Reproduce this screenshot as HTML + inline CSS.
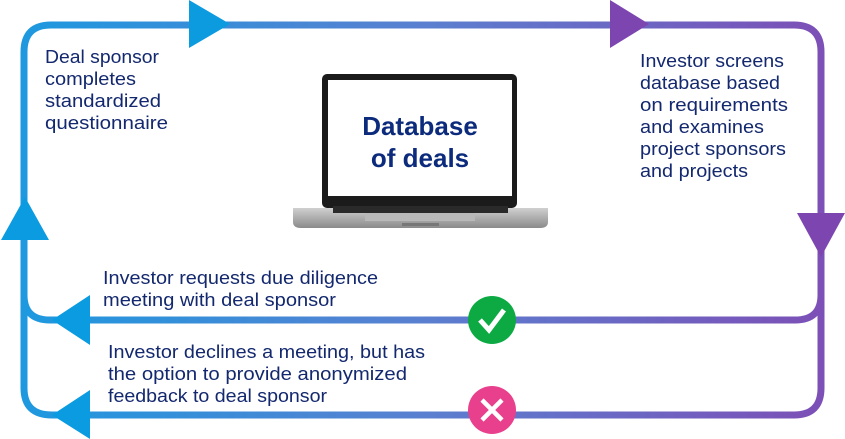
<!DOCTYPE html>
<html><head><meta charset="utf-8"><style>
html,body{margin:0;padding:0;background:#fff;}
svg{display:block;}
text{font-family:"Liberation Sans",sans-serif;fill:#13286e;}
</style></head><body>
<svg width="845" height="439" viewBox="0 0 845 439" xmlns="http://www.w3.org/2000/svg">
<defs>
<linearGradient id="g" gradientUnits="userSpaceOnUse" x1="0" y1="0" x2="845" y2="0">
<stop offset="0" stop-color="#1a9ae0"/><stop offset="0.5" stop-color="#5a7fd0"/><stop offset="1" stop-color="#7e4db5"/>
</linearGradient>
<linearGradient id="base" x1="0" y1="0" x2="0" y2="1">
<stop offset="0" stop-color="#d0d0d0"/><stop offset="1" stop-color="#8a8a8a"/>
</linearGradient>
</defs>
<g fill="none" stroke="url(#g)" stroke-width="7">
<path d="M60 415 H52 Q24 415 24 388 V52 Q24 25 51 25 H794 Q821 25 821 52 V388 Q821 415 794 415 H52"/>
<path d="M24 295 Q24 320 50 320 H795 Q821 320 821 295"/>
</g>
<polygon points="189,0 230,24 189,48" fill="#0d9be0"/>
<polygon points="610,0 649,24 610,48" fill="#7d45b0"/>
<polygon points="797,213 845,213 821,257" fill="#7d45b0"/>
<polygon points="1,240 49,240 25,197" fill="#0a9be0"/>
<polygon points="90,295 52,320 90,345" fill="#0a9be0"/>
<polygon points="90,390 52,415 90,439" fill="#0a9be0"/>
<circle cx="492" cy="320" r="24" fill="#0daa44"/>
<polyline points="480,320 489,330 504,310" fill="none" stroke="#fff" stroke-width="5"/>
<circle cx="492" cy="410" r="24" fill="#e8408c"/>
<path d="M482 400 L502 420 M502 400 L482 420" stroke="#fff" stroke-width="4.5"/>
<rect x="322" y="74" width="195" height="134" rx="5" fill="#1b1b1b"/>
<rect x="328" y="80" width="184" height="116" fill="#fff"/>
<path d="M293 208 H548 V222 Q548 228 540 228 H301 Q293 228 293 222 Z" fill="url(#base)"/>
<rect x="333" y="206" width="175" height="7" fill="#2a2a2a"/>
<rect x="365" y="213" width="110" height="8" fill="#b9b9b9"/>
<rect x="402" y="223" width="37" height="3" fill="#777"/>
<text x="420" y="135" text-anchor="middle" font-size="26" font-weight="bold" style="fill:#0c2b7c">Database</text>
<text x="420" y="167" text-anchor="middle" font-size="26" font-weight="bold" style="fill:#0c2b7c">of deals</text>
<g font-size="18.5" lengthAdjust="spacingAndGlyphs">
<text x="45" y="63" textLength="114" lengthAdjust="spacingAndGlyphs">Deal sponsor</text>
<text x="45" y="85" textLength="91" lengthAdjust="spacingAndGlyphs">completes</text>
<text x="45" y="107" textLength="116" lengthAdjust="spacingAndGlyphs">standardized</text>
<text x="45" y="129" textLength="123" lengthAdjust="spacingAndGlyphs">questionnaire</text>
<text x="640" y="67" textLength="144" lengthAdjust="spacingAndGlyphs">Investor screens</text>
<text x="640" y="89" textLength="140" lengthAdjust="spacingAndGlyphs">database based</text>
<text x="640" y="111" textLength="148" lengthAdjust="spacingAndGlyphs">on requirements</text>
<text x="640" y="133" textLength="124" lengthAdjust="spacingAndGlyphs">and examines</text>
<text x="640" y="155" textLength="146" lengthAdjust="spacingAndGlyphs">project sponsors</text>
<text x="640" y="177" textLength="108" lengthAdjust="spacingAndGlyphs">and projects</text>
<text x="103" y="284" textLength="275" lengthAdjust="spacingAndGlyphs">Investor requests due diligence</text>
<text x="103" y="306" textLength="233" lengthAdjust="spacingAndGlyphs">meeting with deal sponsor</text>
<text x="108" y="358" textLength="317" lengthAdjust="spacingAndGlyphs">Investor declines a meeting, but has</text>
<text x="108" y="380" textLength="299" lengthAdjust="spacingAndGlyphs">the option to provide anonymized</text>
<text x="108" y="402" textLength="219" lengthAdjust="spacingAndGlyphs">feedback to deal sponsor</text>
</g>
</svg>
</body></html>
